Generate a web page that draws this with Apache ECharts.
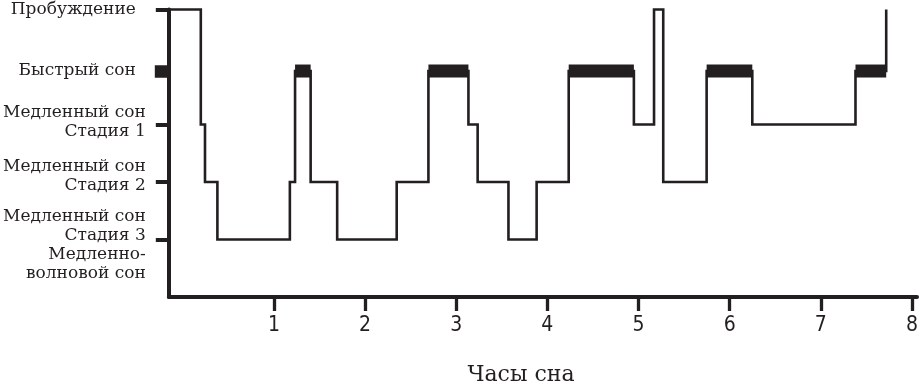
<!DOCTYPE html>
<html>
<head>
<meta charset="utf-8">
<script src="https://cdn.jsdelivr.net/npm/echarts@6/dist/echarts.min.js"></script>
<style>
html,body{margin:0;padding:0;background:#fff;}
#chart{width:921px;height:386px;}
</style>
</head>
<body>
<div id="chart"></div>
<script>
// Sleep stages (level on the vertical scale)
const stageLevels = { W: 5, R: 3.93, S1: 3, S2: 2, S3: 1 };
const stageLabels = {
  W: ['Пробуждение'],
  R: ['Быстрый сон'],
  S1: ['Медленный сон', 'Стадия 1'],
  S2: ['Медленный сон', 'Стадия 2'],
  S3: ['Медленный сон', 'Стадия 3', 'Медленно-', 'волновой сон']
};
// Start time (hours) of each stage episode
const episodeStart = [-0.153, 0.198, 0.244, 0.38, 1.175, 1.232, 1.403, 1.694, 2.347, 2.695, 3.134, 3.235, 3.573, 3.882, 4.234, 4.949, 5.17, 5.271, 5.747, 6.248, 7.38, 7.717];
const episodeStage = ['W','S1','S2','S3','S2','R','S2','S3','S2','R','S1','S2','S3','S2','R','S1','W','S2','R','S1','R','W'];
const hourTicks = [1, 2, 3, 4, 5, 6, 7, 8];
const xTitle = 'Часы сна';

const ink = '#231f20';
// vertical nudges of label blocks (layout only)
const gapBefore = { S3: 'g12' };
const gapAfter = { S1: 'g4', S2: 'g11' };

const hypno = episodeStart.map((h, i) => [h, stageLevels[episodeStage[i]]]);
const remSeries = [];
episodeStage.forEach((s, i) => {
  if (s === 'R' && i + 1 < episodeStart.length) {
    remSeries.push({
      type: 'line', xAxisIndex: 0, yAxisIndex: 0, clip: false, silent: true,
      showSymbol: false, symbol: 'none',
      lineStyle: { color: ink, width: 13, cap: 'butt' },
      data: [[episodeStart[i], stageLevels.R], [episodeStart[i + 1], stageLevels.R]],
      z: 3
    });
  }
});
const labelFor = v => {
  for (const k in stageLevels) {
    if (Math.abs(stageLevels[k] - v) < 1e-6) {
      const lines = stageLabels[k].map(t => '{t|' + t + '}');
      if (gapBefore[k]) lines.unshift('{' + gapBefore[k] + '| }');
      if (gapAfter[k]) lines.push('{' + gapAfter[k] + '| }');
      return lines.join('\n');
    }
  }
  return '';
};
const txt = { fontFamily: 'DejaVu Serif', fontSize: 17, color: ink, lineHeight: 19, align: 'right' };
const rich = {
  t: txt,
  g4: { fontSize: 1, lineHeight: 4 },
  g11: { fontSize: 1, lineHeight: 11 },
  g12: { fontSize: 1, lineHeight: 12 }
};
const yBase = {
  type: 'value', min: 0, max: 5, position: 'left', offset: 0,
  splitLine: { show: false }
};
const yLabelStyle = {
  fontFamily: 'DejaVu Serif', fontSize: 17, color: ink, lineHeight: 19,
  align: 'right', margin: 23, formatter: labelFor, rich: rich, hideOverlap: false
};

const chart = echarts.init(document.getElementById('chart'), null, { renderer: 'canvas' });
chart.setOption({
  animation: false,
  backgroundColor: '#fff',
  grid: { left: 167, top: 8, width: 754, height: 289, containLabel: false },
  title: {
    text: xTitle, left: 521, top: 364, textAlign: 'center', padding: 0,
    textStyle: { fontFamily: 'DejaVu Serif', fontSize: 22, fontWeight: 'normal', color: ink }
  },
  xAxis: {
    type: 'value', min: -0.153, max: 8.055,
    axisLine: { show: true, onZero: false, lineStyle: { color: ink, width: 4 } },
    axisTick: { show: true, customValues: hourTicks, length: 14, lineStyle: { color: ink, width: 3.3 } },
    axisLabel: {
      customValues: hourTicks, margin: 18, fontFamily: 'Liberation Sans Narrow, DejaVu Sans Condensed, sans-serif',
      fontSize: 21, color: ink, hideOverlap: false
    },
    splitLine: { show: false }
  },
  yAxis: [
    Object.assign({}, yBase, {
      axisLine: { show: true, onZero: false, lineStyle: { color: ink, width: 4 } },
      axisTick: { show: true, customValues: [stageLevels.S3, stageLevels.S2, stageLevels.S1, stageLevels.W], length: 13, lineStyle: { color: ink, width: 4 } },
      axisLabel: Object.assign({}, yLabelStyle, { customValues: [stageLevels.S2, stageLevels.S1] })
    }),
    Object.assign({}, yBase, {
      axisLine: { show: false, onZero: false },
      axisTick: { show: true, customValues: [stageLevels.R], length: 14, lineStyle: { color: ink, width: 12.5 } },
      axisLabel: Object.assign({}, yLabelStyle, { customValues: [stageLevels.R, stageLevels.W], padding: [0, 10, 0, 0] })
    }),
    Object.assign({}, yBase, {
      axisLine: { show: false, onZero: false },
      axisTick: { show: false },
      axisLabel: Object.assign({}, yLabelStyle, { customValues: [stageLevels.S3] })
    })
  ],
  series: [
    {
      type: 'line', step: 'end', clip: false, silent: true,
      showSymbol: false, symbol: 'none',
      lineStyle: { color: ink, width: 2.6, join: 'miter' },
      data: hypno, z: 2
    }
  ].concat(remSeries)
});
</script>
</body>
</html>
